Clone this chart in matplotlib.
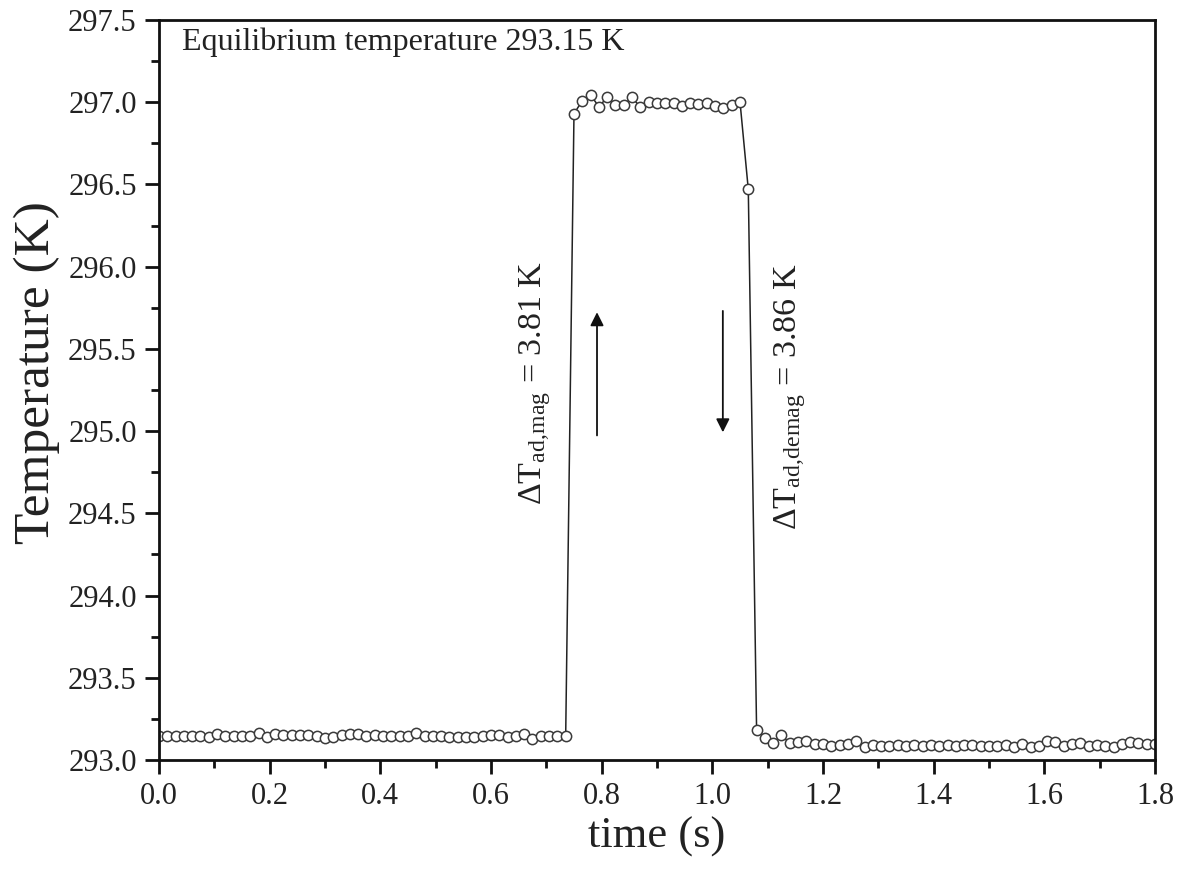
import numpy as np
import matplotlib
matplotlib.use("Agg")
import matplotlib.pyplot as plt
from matplotlib.ticker import MultipleLocator

plt.rcParams['font.family'] = ['Liberation Serif', 'DejaVu Serif']
plt.rcParams['mathtext.fontset'] = 'custom'
plt.rcParams['mathtext.rm'] = 'Liberation Serif'
plt.rcParams['mathtext.it'] = 'Liberation Serif:italic'
plt.rcParams['mathtext.bf'] = 'Liberation Serif:bold'

dt = 0.015
baseline_before = [293.146, 293.148, 293.148, 293.148, 293.148, 293.148, 293.140, 293.160, 293.148, 293.148,
                   293.148, 293.144, 293.162, 293.138, 293.160, 293.152, 293.150, 293.150, 293.150, 293.148,
                   293.132, 293.140, 293.154, 293.156, 293.156, 293.148, 293.152, 293.148, 293.148, 293.148,
                   293.148, 293.164, 293.148, 293.148, 293.148, 293.140, 293.140, 293.140, 293.140, 293.144,
                   293.152, 293.152, 293.140, 293.148, 293.156, 293.128, 293.148, 293.148, 293.148, 293.148]
plateau = [296.93, 297.01, 297.044, 296.973, 297.03, 296.983, 296.983, 297.03, 296.969, 297.003,
           296.997, 296.993, 296.993, 296.977, 296.997, 296.987, 296.993, 296.977, 296.963, 296.983,
           297.003]
falling = [296.47]
baseline_after = [293.182, 293.135, 293.101, 293.152, 293.101, 293.108, 293.118, 293.095, 293.095, 293.083,
                  293.091, 293.095, 293.118, 293.081, 293.091, 293.087, 293.087, 293.091, 293.087, 293.091,
                  293.087, 293.091, 293.087, 293.091, 293.087, 293.091, 293.091, 293.087, 293.087, 293.087,
                  293.091, 293.081, 293.095, 293.081, 293.087, 293.116, 293.111, 293.087, 293.095, 293.101,
                  293.087, 293.091, 293.087, 293.081, 293.095, 293.107, 293.101, 293.095, 293.095, 293.087]

temperature = np.array(baseline_before + plateau + falling + baseline_after)
time = np.arange(len(temperature)) * dt

fig = plt.figure(figsize=(11.81, 8.71), dpi=100)
ax = fig.add_axes([0.1346, 0.1274, 0.8434, 0.8496])

ax.plot(time, temperature, '-', color='#222222', lw=1.1,
        marker='o', ms=7.4, mfc='white', mec='#3a3a3a', mew=1.1)

ax.set_xlim(0.0, 1.8)
ax.set_ylim(293.0, 297.5)
ax.xaxis.set_major_locator(MultipleLocator(0.2))
ax.xaxis.set_minor_locator(MultipleLocator(0.1))
ax.yaxis.set_major_locator(MultipleLocator(0.5))
ax.yaxis.set_minor_locator(MultipleLocator(0.25))
ax.xaxis.set_major_formatter(matplotlib.ticker.FormatStrFormatter('%.1f'))
ax.yaxis.set_major_formatter(matplotlib.ticker.FormatStrFormatter('%.1f'))

for s in ax.spines.values():
    s.set_linewidth(2.0)
    s.set_color('#111111')
ax.tick_params(which='both', direction='out', top=False, right=False, width=2.0, color='#111111')
ax.tick_params(which='major', length=10, labelsize=22, pad=6, labelcolor='#222222')
ax.tick_params(which='minor', length=6)

ax.set_xlabel('time (s)', fontsize=32, color='#222222', labelpad=4)
ax.set_ylabel('Temperature (K)', fontsize=37, color='#222222')
ax.yaxis.set_label_coords(-0.099, 0.524)

ax.text(0.023, 0.990, 'Equilibrium temperature 293.15 K', transform=ax.transAxes,
        ha='left', va='top', fontsize=23, color='#222222')

ax.text(0.68, 294.55, r'$\Delta\mathrm{T}_{\mathrm{ad,\!mag}}$ = 3.81 K', rotation=90,
        ha='center', va='bottom', fontsize=24.5, color='#222222')
ax.text(1.140, 294.40, r'$\Delta\mathrm{T}_{\mathrm{ad,\!demag}}$ = 3.86 K', rotation=90,
        ha='center', va='bottom', fontsize=24.5, color='#222222')

ax.annotate('', xy=(0.7916, 295.74), xytext=(0.7916, 294.957),
            arrowprops=dict(arrowstyle='-|>', color='#111111', lw=1.3, mutation_scale=20))
ax.annotate('', xy=(1.019, 294.976), xytext=(1.019, 295.748),
            arrowprops=dict(arrowstyle='-|>', color='#111111', lw=1.3, mutation_scale=20))

fig.savefig('out.png', dpi=100, facecolor='white')
